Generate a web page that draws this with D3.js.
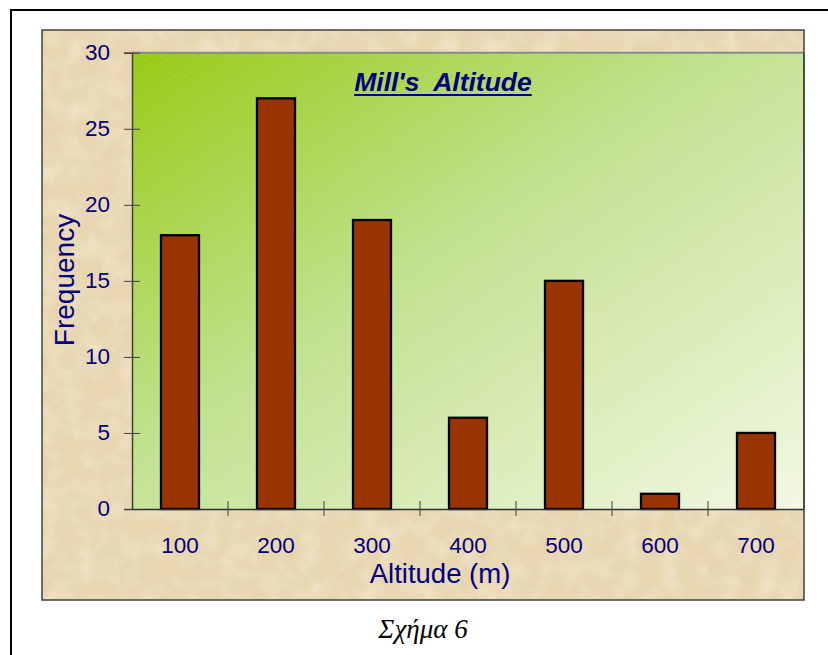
<!DOCTYPE html>
<html>
<head>
<meta charset="utf-8">
<script src="https://cdn.jsdelivr.net/npm/d3@7"></script>
<style>
  html, body { margin: 0; padding: 0; background: #fff; }
  svg { display: block; }
</style>
</head>
<body>
<svg id="chart" width="828" height="655"></svg>
<script>
// Altitude bins and their counts
const categories = ["100", "200", "300", "400", "500", "600", "700"];
const frequencies = [18, 27, 19, 6, 15, 1, 5];
const yTicks = [0, 5, 10, 15, 20, 25, 30];
const titleText = "Mill's  Altitude";
const xTitle = "Altitude (m)";
const yTitle = "Frequency";
const captionText = "Σχήμα 6";

const svg = d3.select("#chart");
const navy = "#000080";
const sans = "'Liberation Sans', Arial, sans-serif";

const defs = svg.append("defs");

// parchment texture: light and dark mottling over a beige base
function mottle(id, freq, seed, rgb, gain, bias) {
  const f = defs.append("filter").attr("id", id)
    .attr("x", 0).attr("y", 0).attr("width", 1).attr("height", 1);
  f.append("feTurbulence").attr("type", "fractalNoise")
    .attr("baseFrequency", freq).attr("numOctaves", 4).attr("seed", seed).attr("result", "noise");
  f.append("feColorMatrix").attr("in", "noise").attr("type", "matrix")
    .attr("values", `0 0 0 0 ${rgb[0]}  0 0 0 0 ${rgb[1]}  0 0 0 0 ${rgb[2]}  ${gain} 0 0 0 ${bias}`)
    .attr("result", "tint");
  f.append("feComposite").attr("in", "tint").attr("in2", "SourceGraphic").attr("operator", "in");
}
mottle("paperLight", 0.05, 3, [0.97, 0.92, 0.80], -1.4, 0.85);
mottle("paperDark", 0.07, 11, [0.78, 0.65, 0.45], 1.2, -0.45);

// diagonal green gradient for the plot area
const grad = defs.append("linearGradient").attr("id", "plotGrad")
  .attr("x1", "0").attr("y1", "0").attr("x2", "1").attr("y2", "1");
grad.append("stop").attr("offset", "0").attr("stop-color", "#98ca14");
grad.append("stop").attr("offset", "0.45").attr("stop-color", "#c2e190");
grad.append("stop").attr("offset", "1").attr("stop-color", "#f2f8e2");

// fine diagonal hatch over the gradient
const hatch = defs.append("pattern").attr("id", "hatch")
  .attr("width", 6).attr("height", 6).attr("patternUnits", "userSpaceOnUse")
  .attr("patternTransform", "rotate(-35)");
hatch.append("line").attr("x1", 0).attr("y1", 0).attr("x2", 6).attr("y2", 0)
  .attr("stroke", "#ffffff").attr("stroke-opacity", 0.12).attr("stroke-width", 1);

// outer frame
svg.append("rect").attr("x", 11).attr("y", 10).attr("width", 830).attr("height", 660)
  .attr("fill", "#fff").attr("stroke", "#000").attr("stroke-width", 2);

// chart box
const box = { x: 42, y: 30, w: 762, h: 570 };
svg.append("rect").attr("x", box.x).attr("y", box.y).attr("width", box.w).attr("height", box.h)
  .attr("fill", "#e8d6b1");
svg.append("rect").attr("x", box.x).attr("y", box.y).attr("width", box.w).attr("height", box.h)
  .attr("fill", "#000").attr("filter", "url(#paperDark)").attr("opacity", 0.5);
svg.append("rect").attr("x", box.x).attr("y", box.y).attr("width", box.w).attr("height", box.h)
  .attr("fill", "#000").attr("filter", "url(#paperLight)").attr("opacity", 0.55);

const plot = { left: 132, top: 52.7, right: 804, bottom: 509 };

const xb = d3.scaleBand().domain(categories).range([plot.left, plot.right]);
const y = d3.scaleLinear().domain([0, 30]).range([plot.bottom, plot.top]);

// plot area
svg.append("rect").attr("x", plot.left).attr("y", plot.top)
  .attr("width", plot.right - plot.left).attr("height", plot.bottom - plot.top)
  .attr("fill", "url(#plotGrad)");
svg.append("rect").attr("x", plot.left).attr("y", plot.top)
  .attr("width", plot.right - plot.left).attr("height", plot.bottom - plot.top)
  .attr("fill", "url(#hatch)");
svg.append("line").attr("x1", plot.left).attr("x2", plot.right)
  .attr("y1", plot.top).attr("y2", plot.top)
  .attr("stroke", "#8a8a8a").attr("stroke-width", 2);

// bars
const barW = 38;
svg.append("g").selectAll("rect").data(frequencies).join("rect")
  .attr("x", (d, i) => xb(categories[i]) + xb.bandwidth() / 2 - barW / 2)
  .attr("y", d => y(d))
  .attr("width", barW)
  .attr("height", d => y(0) - y(d))
  .attr("fill", "#993300")
  .attr("stroke", "#000").attr("stroke-width", 2.3);

// y axis
const yAxis = svg.append("g").attr("transform", `translate(${plot.left},0)`)
  .call(d3.axisLeft(y).tickValues(yTicks).tickSize(8).tickPadding(14));
yAxis.select(".domain").attr("stroke", "#404040").attr("stroke-width", 1.5);
yAxis.selectAll(".tick line").attr("stroke", "#404040").attr("x2", 8).attr("x1", -8);
yAxis.selectAll(".tick text").attr("fill", navy).attr("dy", "0.28em")
  .style("font-family", sans).style("font-size", "22.5px");

// x axis with boundary ticks between bins
const xAxis = svg.append("g").attr("transform", `translate(0,${plot.bottom})`)
  .call(d3.axisBottom(xb).tickSize(0).tickPadding(28));
xAxis.select(".domain").attr("stroke", "#303030").attr("stroke-width", 1.5);
xAxis.selectAll(".tick text").attr("fill", navy)
  .style("font-family", sans).style("font-size", "22.5px");
const bounds = categories.slice(1).map(c => xb(c));
xAxis.selectAll("line.bound").data(bounds).join("line").attr("class", "bound")
  .attr("x1", d => d).attr("x2", d => d).attr("y1", -8).attr("y2", 7)
  .attr("stroke", "#404040").attr("stroke-width", 1);

// right edge of plot
svg.append("line").attr("x1", plot.right).attr("x2", plot.right)
  .attr("y1", plot.top).attr("y2", plot.bottom)
  .attr("stroke", "#404040").attr("stroke-width", 1.5);

// chart box border
svg.append("rect").attr("x", box.x).attr("y", box.y).attr("width", box.w).attr("height", box.h)
  .attr("fill", "none").attr("stroke", "#404040").attr("stroke-width", 1.5);

// title
const title = svg.append("text").attr("x", 443).attr("y", 91)
  .attr("text-anchor", "middle").attr("fill", navy)
  .style("font-family", sans)
  .style("font-size", "26.5px").style("font-weight", "bold").style("font-style", "italic")
  .style("white-space", "pre")
  .text(titleText);
const tb = title.node().getBBox();
svg.append("line").attr("x1", tb.x).attr("x2", tb.x + tb.width)
  .attr("y1", 95).attr("y2", 95).attr("stroke", navy).attr("stroke-width", 2);

// axis titles
svg.append("text").attr("x", 440).attr("y", 583).attr("text-anchor", "middle")
  .attr("fill", navy).style("font-family", sans)
  .style("font-size", "27.5px").text(xTitle);
svg.append("text").attr("transform", "translate(74,280) rotate(-90)").attr("text-anchor", "middle")
  .attr("fill", navy).style("font-family", sans)
  .style("font-size", "28px").text(yTitle);

// caption
svg.append("text").attr("x", 423).attr("y", 638).attr("text-anchor", "middle")
  .attr("fill", "#000").style("font-family", "'Liberation Serif', 'Times New Roman', serif")
  .style("font-size", "27px").style("font-style", "italic").text(captionText);
</script>
</body>
</html>
